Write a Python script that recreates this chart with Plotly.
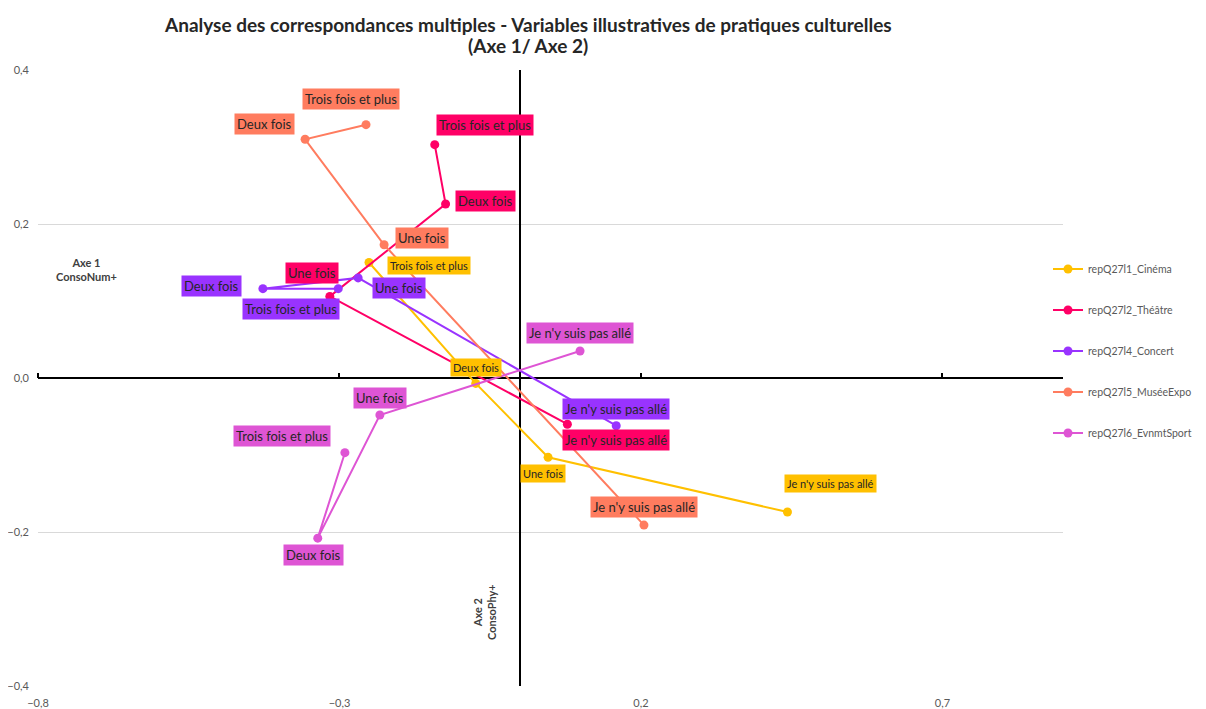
import plotly.graph_objects as go

# Modalités (ordre de tracé des lignes)
categories = ["Trois fois et plus", "Deux fois", "Une fois", "Je n'y suis pas allé"]

series_names = [
    "repQ27l1_Cinéma",
    "repQ27l2_Théâtre",
    "repQ27l4_Concert",
    "repQ27l5_MuséeExpo",
    "repQ27l6_EvnmtSport",
]

# Coordonnées sur Axe 1 (x) et Axe 2 (y)
cinema_x = [-0.251, -0.074, 0.046, 0.443]
cinema_y = [0.150, -0.007, -0.103, -0.174]

theatre_x = [-0.142, -0.124, -0.316, 0.078]
theatre_y = [0.303, 0.226, 0.106, -0.060]

concert_x = [-0.302, -0.427, -0.269, 0.159]
concert_y = [0.116, 0.116, 0.130, -0.062]

musee_x = [-0.256, -0.357, -0.226, 0.205]
musee_y = [0.329, 0.310, 0.173, -0.191]

sport_x = [-0.291, -0.336, -0.233, 0.099]
sport_y = [-0.097, -0.208, -0.048, 0.035]

x_tickvals = [-0.8, -0.3, 0.2, 0.7]
y_tickvals = [-0.4, -0.2, 0.0, 0.2, 0.4]

colors = ["#FFC000", "#FF0066", "#9933FF", "#FF7C5F", "#DE55D4"]

# label placement (pixel offsets dx, dy-down) per series, per modality
label_offsets = [
    [(60, 3), (0, -16), (-5, 16), (43, -28)],
    [(50, -20), (40, -3), (-18, -23), (49, 16)],
    [(-47, 20), (-51, -3), (41, 10), (0, -17)],
    [(-15, -26), (-41, -15), (38, -7), (0, -18)],
    [(-63, -17), (-4, 17), (0, -17), (0, -18)],
]
label_sizes = [11, 13, 13, 13, 13]

xs = [cinema_x, theatre_x, concert_x, musee_x, sport_x]
ys = [cinema_y, theatre_y, concert_y, musee_y, sport_y]

# page has an 8px body margin -> figure drawn at (8, 8)
W, H = 1198, 701
L, T, R, B = 30, 62, 143, 23
pw, ph = W - L - R, H - T - B


def px_to_paper(px, py):
    # page pixel -> paper coords of the plot area
    return (px - 8 - L) / pw, 1 - (py - 8 - T) / ph


fig = go.Figure()
annotations = []

for i, name in enumerate(series_names):
    fig.add_trace(
        go.Scatter(
            x=xs[i],
            y=ys[i],
            mode="lines+markers",
            name=name,
            legendgroup=name,
            text=categories,
            line=dict(color=colors[i], width=2),
            marker=dict(color=colors[i], size=9),
            hovertemplate="%{text}<br>(%{x}, %{y})<extra>" + name + "</extra>",
        )
    )
    for j, cat in enumerate(categories):
        dx, dy = label_offsets[i][j]
        annotations.append(
            dict(
                x=xs[i][j],
                y=ys[i][j],
                xref="x",
                yref="y",
                text=cat,
                showarrow=False,
                xshift=dx,
                yshift=-dy,
                bgcolor=colors[i],
                borderpad=2,
                font=dict(family="Lato", size=label_sizes[i], color="#262626"),
            )
        )

# invisible trace so the tick axis on the zero line gets drawn
fig.add_trace(
    go.Scatter(x=cinema_x, y=cinema_y, xaxis="x2", mode="markers",
               marker=dict(opacity=0), showlegend=False, hoverinfo="skip")
)

# title (two lines, as separate annotations for tighter spacing)
tx, ty1 = px_to_paper(528, 24)
_, ty2 = px_to_paper(528, 45)
annotations.append(
    dict(x=tx, y=ty1, xref="paper", yref="paper", xanchor="center", yanchor="middle", showarrow=False,
         text="<b>Analyse des correspondances multiples - Variables illustratives de pratiques culturelles</b>",
         font=dict(family="Lato", size=19, color="#262626"))
)
annotations.append(
    dict(x=tx, y=ty2, xref="paper", yref="paper", xanchor="center", yanchor="middle", showarrow=False,
         text="<b>(Axe 1/ Axe 2)</b>", font=dict(family="Lato", size=19, color="#262626"))
)

# axis titles
ax1x, ax1y = px_to_paper(86, 269)
annotations.append(
    dict(x=ax1x, y=ax1y, xref="paper", yref="paper", xanchor="center", yanchor="middle",
         text="<b>Axe 1<br>ConsoNum+</b>", showarrow=False,
         font=dict(family="Lato", size=11, color="#404040"))
)
ax2x, ax2y = px_to_paper(484, 612)
annotations.append(
    dict(x=ax2x, y=ax2y, xref="paper", yref="paper", xanchor="center", yanchor="middle",
         text="<b>Axe 2<br>ConsoPhy+</b>", showarrow=False, textangle=-90,
         font=dict(family="Lato", size=11, color="#404040"))
)

lx, ly = px_to_paper(1048, 351)

fig.update_layout(
    width=W,
    height=H,
    margin=dict(l=L, r=R, t=T, b=B, autoexpand=False),
    paper_bgcolor="white",
    plot_bgcolor="white",
    separators=", ",
    font=dict(family="Lato", color="#595959"),
    annotations=annotations,
    legend=dict(
        x=lx,
        xanchor="left",
        y=ly,
        yanchor="middle",
        tracegroupgap=22,
        itemwidth=30,
        font=dict(family="Lato", size=10.5, color="#595959"),
        bgcolor="rgba(0,0,0,0)",
    ),
    showlegend=True,
)

fig.update_xaxes(
    range=[-0.8, 0.9],
    tickvals=x_tickvals,
    tickformat=".1f",
    showgrid=False,
    zeroline=True,
    zerolinecolor="#000000",
    zerolinewidth=2,
    showline=False,
    ticks="",
    automargin=False,
    ticklabelstandoff=9,
    tickfont=dict(size=11, color="#595959"),
)
fig.update_yaxes(
    range=[-0.4, 0.4],
    tickvals=y_tickvals,
    tickformat=".1f",
    showgrid=True,
    gridcolor="#D9D9D9",
    gridwidth=1,
    zeroline=True,
    zerolinecolor="#000000",
    zerolinewidth=2,
    showline=False,
    ticks="",
    automargin=False,
    ticklabelstandoff=8,
    tickfont=dict(size=11, color="#595959"),
)
fig.update_layout(
    xaxis2=dict(
        overlaying="x",
        matches="x",
        anchor="free",
        position=0.5,
        side="top",
        tickvals=x_tickvals,
        ticks="outside",
        ticklen=5,
        tickwidth=2,
        tickcolor="#000000",
        showticklabels=False,
        showgrid=False,
        zeroline=False,
        showline=False,
        automargin=False,
    )
)

fig.write_html("out.html")
